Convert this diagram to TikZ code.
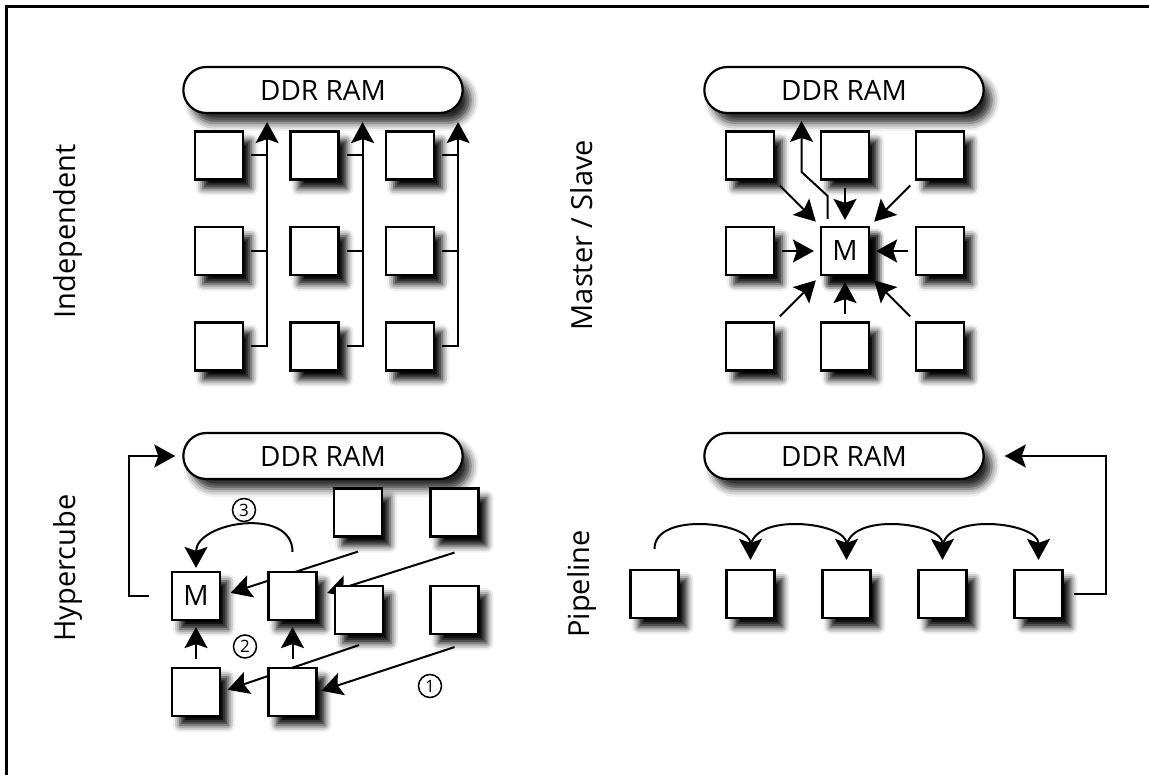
\documentclass[tikz,border=0pt]{standalone}
\usepackage{fontspec}
\setmainfont{Open Sans}
\usetikzlibrary{arrows.meta, shapes.misc, shadows.blur}

\begin{document}
\begin{tikzpicture}[x=1pt, y=1pt,
    core/.style={draw, line width=2.2pt, fill=white, minimum size=48pt, inner sep=0pt,
        font=\fontsize{28}{32}\selectfont,
        blur shadow={shadow xshift=8pt, shadow yshift=-9pt, shadow blur radius=7pt, shadow opacity=100}},
    ram/.style={draw, rounded rectangle, line width=2.2pt, fill=white, minimum width=286pt,
        minimum height=46pt, font=\fontsize{28}{32}\selectfont,
        blur shadow={shadow xshift=8pt, shadow yshift=-10pt, shadow blur radius=8pt, shadow opacity=85}},
    sidelabel/.style={rotate=90, font=\fontsize{29}{32}\selectfont},
    flow/.style={line width=2pt, -{Stealth[length=21pt, width=23pt, inset=4pt]}},
    stepno/.style={circle, draw, line width=1.5pt, minimum size=23pt, inner sep=0pt,
        font=\fontsize{17}{17}\selectfont}
]
    \useasboundingbox (0,0) rectangle (1149,-775);
    % Frame
    \draw[line width=2.2pt] (6.5,-775) -- (6.5,-6.5) -- (1149,-6.5);

    % Independent
    \node[sidelabel] at (67.5,-231.5) {Independent};
    \node[ram] (ram1) at (323,-90) {DDR RAM};
    \foreach \r/\y in {1/155.5,2/251,3/346.5}
        \foreach \c/\x in {1/219,2/314.5,3/410}
            \node[core] (i\r\c) at (\x,-\y) {};
    \foreach \c in {1,2,3} {
        \draw[flow, shorten >=8pt] ([xshift=7pt]i3\c.east) -| ([xshift=23pt]i1\c.east |- ram1.south);
        \draw[line width=2pt] ([xshift=7pt]i1\c.east) -- ([xshift=23pt]i1\c.east);
        \draw[line width=2pt] ([xshift=7pt]i2\c.east) -- ([xshift=23pt]i2\c.east);
    }

    % Master / Slave
    \node[sidelabel] at (582,-235) {Master / Slave};
    \node[ram] (ram2) at (844,-90) {DDR RAM};
    \foreach \r/\y in {1/155.5,2/251,3/346.5}
        \foreach \c/\x in {1/750,2/845,3/940}
            \node[core] (m\r\c) at (\x,-\y) {};
    \node[core] at (m22) {M};
    \foreach \n in {m11,m12,m13,m21,m23,m31,m32,m33}
        \draw[flow, shorten <=7pt, shorten >=6pt] (\n) -- (m22);
    \draw[flow] ([xshift=-17.5pt,yshift=7pt]m22.north) -- ++(0,23) -- ++(-26,24) -- ++(0,51);

    % Hypercube (drawn back to front)
    \node[sidelabel] at (67.5,-568) {Hypercube};
    \node[ram] (ram3) at (323,-456) {DDR RAM};
    \node[core] (hm) at (196,-596) {M};
    \node[core] (hc) at (196,-692) {};
    \node[core] (hg) at (358,-512.5) {};
    \node[core] (hh) at (454.5,-512.5) {};
    \node[core] (hf) at (454.5,-610) {};
    \draw[flow, shorten >=10pt] ([yshift=-14pt]hg.south) -- (hm.east);
    \node[core] (hb) at (292.5,-596) {};
    \draw[flow, shorten >=10pt] ([yshift=-15pt]hh.south) -- (hb.east);
    \node[core] (he) at (359,-610) {};
    \draw[flow, shorten >=7pt] ([yshift=-10pt]he.south) -- (hc.east);
    \node[core] (hd) at (292.5,-692) {};
    \draw[flow, shorten >=4pt] ([yshift=-12pt]hf.south) -- (hd.east);
    \draw[flow, shorten <=8pt, shorten >=6pt] (hc) -- (hm);
    \draw[flow, shorten <=8pt, shorten >=6pt] (hd) -- (hb);
    \draw[flow] ([yshift=19pt]hb.north) to[out=90, in=90, looseness=1.2] ([yshift=3pt]hm.north);
    \draw[flow, shorten <=22pt, shorten >=7pt] (hm.west) -- ++(-42,0) |- (ram3.west);
    \node[stepno] (s1) at (430,-686) {1};
    \node[stepno] (s2) at (245,-646.5) {2};
    \node[stepno] (s3) at (244,-510) {3};

    % Pipeline
    \node[sidelabel] at (582,-584) {Pipeline};
    \node[ram] (ram4) at (844,-456) {DDR RAM};
    \foreach \i/\x in {1/654.5,2/750.5,3/846.5,4/942.5,5/1038.5}
        \node[core] (p\i) at (\x,-594) {};
    \foreach \i/\j in {1/2,2/3,3/4,4/5}
        \draw[flow] ([yshift=20pt]p\i.north) to[out=90, in=90, looseness=1] ([yshift=9pt]p\j.north);
    \draw[flow, shorten <=10pt, shorten >=20pt] (p5.east) -- ++(42,0) |- (ram4.east);
\end{tikzpicture}
\end{document}
